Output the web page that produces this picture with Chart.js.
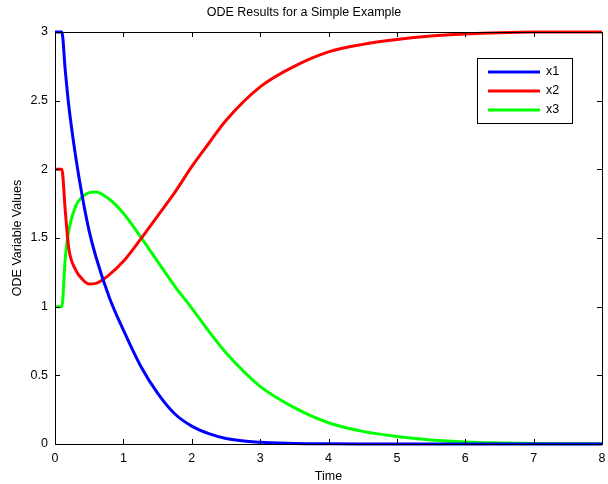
<!DOCTYPE html>
<html>
<head>
<meta charset="utf-8">
<script src="https://cdn.jsdelivr.net/npm/chart.js@4.4.0/dist/chart.umd.min.js"></script>
<style>
  body { margin: 0; background: #fff; }
  canvas { display: block; }
</style>
</head>
<body>
<canvas id="ode-chart" width="608" height="484"></canvas>
<script>
// tempi e valori
var times = [0, 0.1, 0.15, 0.2, 0.3, 0.4, 0.5, 0.6, 0.8, 1.0, 1.25, 1.5, 1.75, 2.0, 2.25, 2.5, 3.0, 3.5, 4.0, 4.5, 5.0, 5.5, 6.0, 6.5, 7.0, 7.5, 8.0];
var x1 = [3, 3, 2.72, 2.47, 2.1, 1.8, 1.55, 1.36, 1.06, 0.83, 0.57, 0.37, 0.22, 0.13, 0.075, 0.04, 0.012, 0.004, 0.001, 0, 0, 0, 0, 0, 0, 0, 0];
var x2 = [2, 2, 1.7, 1.43, 1.27, 1.2, 1.165, 1.17, 1.235, 1.33, 1.49, 1.66, 1.83, 2.02, 2.19, 2.355, 2.6, 2.75, 2.855, 2.91, 2.945, 2.97, 2.985, 2.995, 3, 3, 3];
var x3 = [1, 1, 1.35, 1.55, 1.73, 1.8, 1.83, 1.835, 1.78, 1.68, 1.51, 1.33, 1.15, 0.99, 0.82, 0.665, 0.42, 0.265, 0.155, 0.092, 0.055, 0.03, 0.015, 0.008, 0.004, 0.002, 0.001];
var seriesNames = ['x1', 'x2', 'x3'];
var seriesColors = ['#0000ff', '#ff0000', '#00ff00'];

function toPoints(vals) {
  return times.map(function (t, i) { return { x: t, y: vals[i] }; });
}

var font = { family: 'Liberation Sans, Arial, sans-serif', size: 12.5 };
Chart.defaults.font.family = font.family;
Chart.defaults.color = '#000';

// box, tacche verso l'interno e legenda stile matlab
var matlabBox = {
  id: 'matlabBox',
  afterDatasetsDraw: function (chart) {
    var c = chart.ctx, a = chart.chartArea;
    var xs = chart.scales.x, ys = chart.scales.y;
    c.save();
    c.strokeStyle = '#000';
    c.lineWidth = 1;
    c.strokeRect(a.left + 0.5, a.top + 0.5, a.right - a.left, a.bottom - a.top);
    var len = 5;
    c.beginPath();
    xs.ticks.forEach(function (t) {
      var px = Math.round(xs.getPixelForValue(t.value)) + 0.5;
      c.moveTo(px, a.bottom); c.lineTo(px, a.bottom - len);
      c.moveTo(px, a.top); c.lineTo(px, a.top + len);
    });
    ys.ticks.forEach(function (t) {
      var py = Math.round(ys.getPixelForValue(t.value)) + 0.5;
      c.moveTo(a.left, py); c.lineTo(a.left + len, py);
      c.moveTo(a.right, py); c.lineTo(a.right - len, py);
    });
    c.stroke();

    // legenda
    var lx = 477, ly = 58, lw = 95, lh = 65;
    c.fillStyle = '#fff';
    c.fillRect(lx, ly, lw, lh);
    c.strokeRect(lx + 0.5, ly + 0.5, lw, lh);
    c.font = '12.5px ' + font.family;
    c.textBaseline = 'middle';
    chart.data.datasets.forEach(function (ds, i) {
      var yy = ly + 14 + i * 19;
      c.strokeStyle = ds.borderColor;
      c.lineWidth = 3;
      c.beginPath();
      c.moveTo(lx + 11, yy); c.lineTo(lx + 63, yy);
      c.stroke();
      c.fillStyle = '#000';
      c.fillText(ds.label, lx + 69, yy);
    });
    c.restore();
  }
};

var ctx = document.getElementById('ode-chart').getContext('2d');
var chart = new Chart(ctx, {
  type: 'line',
  data: {
    datasets: [0, 1, 2].map(function (i) {
      return {
        label: seriesNames[i],
        data: toPoints([x1, x2, x3][i]),
        borderColor: seriesColors[i],
        borderWidth: 3,
        pointRadius: 0,
        cubicInterpolationMode: 'monotone',
        clip: 4
      };
    })
  },
  options: {
    responsive: false,
    animation: false,
    layout: { padding: { left: 0, right: 0, top: 0, bottom: 0 } },
    plugins: {
      legend: { display: false },
      tooltip: { enabled: false },
      title: {
        display: true,
        text: 'ODE Results for a Simple Example',
        color: '#000',
        font: { family: font.family, size: 12.5, weight: 'normal' },
        padding: { top: 5, bottom: 12 }
      }
    },
    scales: {
      x: {
        type: 'linear',
        min: 0, max: 8,
        ticks: { stepSize: 1, padding: 7, font: font, color: '#000', maxRotation: 0 },
        grid: { display: false, drawTicks: false },
        border: { display: false },
        title: { display: true, text: 'Time', font: font, color: '#000', padding: { top: 0, bottom: 0 } },
        afterFit: function (s) { s.height = 40; s.paddingRight = 6; }
      },
      y: {
        min: 0, max: 3,
        ticks: {
          stepSize: 0.5, padding: 7, font: font, color: '#000',
          callback: function (v) { return String(v); }
        },
        grid: { display: false, drawTicks: false },
        border: { display: false },
        title: { display: true, text: 'ODE Variable Values', font: font, color: '#000', padding: { top: 10, bottom: 0 } },
        afterFit: function (s) { s.width = 55; }
      }
    }
  },
  plugins: [matlabBox]
});
</script>
</body>
</html>
